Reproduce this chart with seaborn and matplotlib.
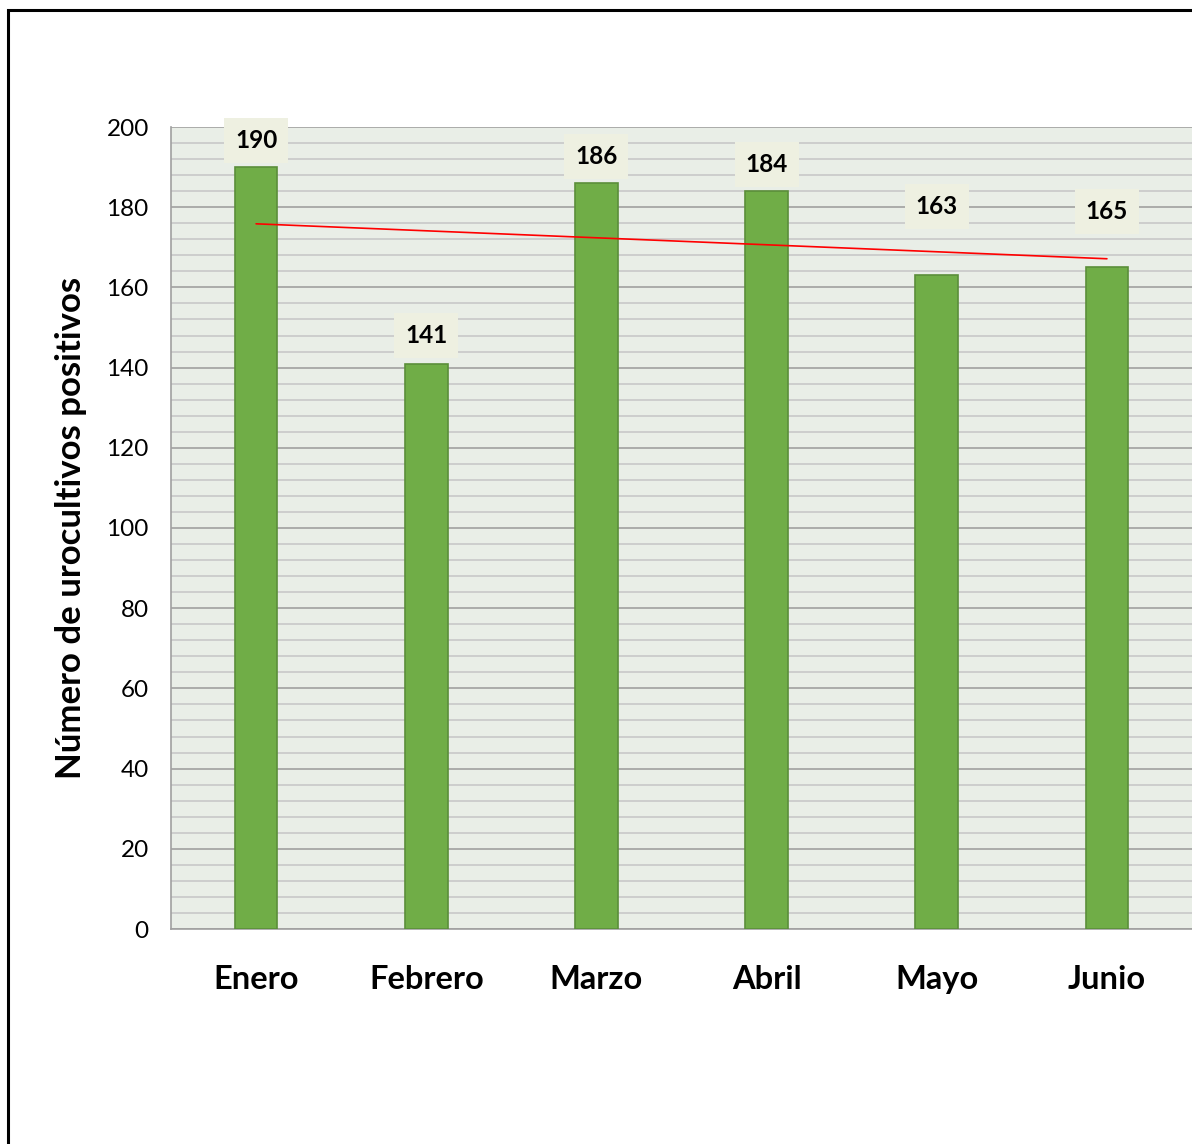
import numpy as np
import pandas as pd
import matplotlib
matplotlib.use("Agg")
import matplotlib.pyplot as plt
from matplotlib.patches import Rectangle
from matplotlib.ticker import MultipleLocator
import seaborn as sns

# ── Data ───────────────────────────────────────────────────────
months = ["Enero", "Febrero", "Marzo", "Abril", "Mayo", "Junio"]
positives = [190, 141, 186, 184, 163, 165]
label_offsets = [27, 28, 27, 27, 69, 56]  # px above bar top (Excel pushes some up)

BAR_COLOR = "#70AD47"
BAR_EDGE = "#5B8E3A"
PLOT_BG = "#E9EEE7"
LABEL_BG = "#EEF0E1"

sns.set_style("white")
plt.rcParams["font.family"] = ["Lato", "DejaVu Sans"]

df = pd.DataFrame({"mes": months, "n": positives})

fig = plt.figure(figsize=(11.92, 11.44), dpi=100)
ax = fig.add_axes([171 / 1192, 1 - 929 / 1144, 1 - 171 / 1192, (929 - 127) / 1144])
ax.set_facecolor(PLOT_BG)

sns.barplot(data=df, x="mes", y="n", color=BAR_COLOR, width=0.25,
            edgecolor=BAR_EDGE, linewidth=1.2, saturation=1, ax=ax, zorder=3)

# linear trendline
xs = np.arange(len(months))
slope, intercept = np.polyfit(xs, positives, 1)
ax.plot(xs, slope * xs + intercept, color="red", linewidth=1.2, zorder=4)

# data labels
for i, v in enumerate(positives):
    ax.annotate(str(v), xy=(i, v), xytext=(0, label_offsets[i] * 0.72),
                textcoords="offset points", ha="center", va="center",
                fontsize=17.5, fontweight="bold", color="black", zorder=5,
                bbox=dict(boxstyle="square,pad=0.45", fc=LABEL_BG, ec="none"))

ax.set_xlim(-0.5, len(months) - 0.5)
ax.set_ylim(0, 200)
ax.yaxis.set_major_locator(MultipleLocator(20))
ax.yaxis.set_minor_locator(MultipleLocator(4))
ax.grid(axis="y", which="major", color="#A0A0A0", linewidth=1.2, zorder=0)
ax.grid(axis="y", which="minor", color="#C8C8C8", linewidth=1.2, zorder=0)
ax.set_axisbelow(True)

for s in ["top", "right"]:
    ax.spines[s].set_visible(False)
for s in ["left", "bottom"]:
    ax.spines[s].set_color("#A0A0A0")
    ax.spines[s].set_linewidth(1.2)

ax.tick_params(axis="y", which="major", length=10, color="#A0A0A0", width=1.2,
               labelsize=17.5, labelcolor="black", pad=6)
ax.tick_params(axis="y", which="minor", length=0)
ax.tick_params(axis="x", length=0, labelsize=23.5, labelcolor="black", pad=26)
for lbl in ax.get_xticklabels():
    lbl.set_fontweight("bold")

ax.set_xlabel("")
ax.set_ylabel("Número de urocultivos positivos", fontsize=25, fontweight="bold",
              color="black", labelpad=14)

# outer frame (left/top visible, rest cropped)
fig.patches.append(Rectangle((8 / 1192, -0.1), 1.2, 1 - 10 / 1144 + 0.1,
                             transform=fig.transFigure, fill=False,
                             edgecolor="black", linewidth=2.2))

fig.savefig("out.png", dpi=100)
